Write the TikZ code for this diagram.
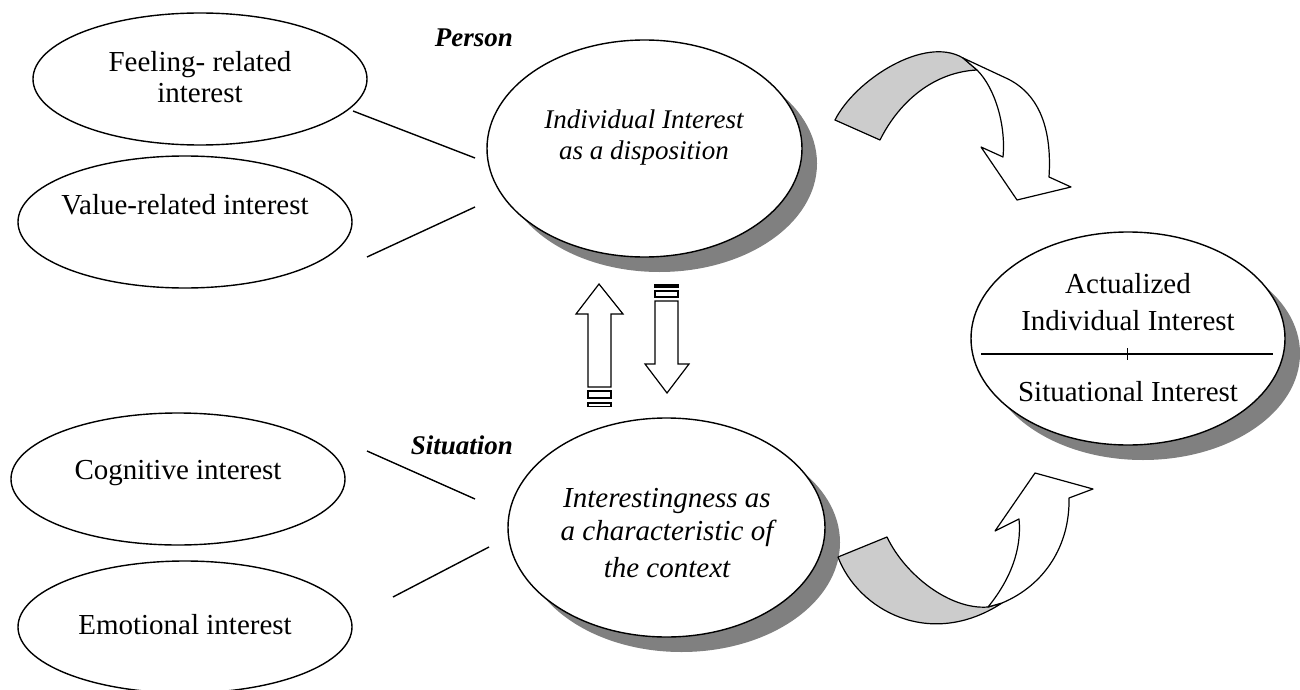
\documentclass[tikz,border=0pt]{standalone}
\usepackage{fontspec}
\setmainfont{Liberation Serif}
\usepackage{xcolor}
\definecolor{Band Gray}{HTML}{cccccc}
\definecolor{Shade Gray}{HTML}{808080}
\colorlet{cBand}{Band Gray}
\colorlet{cShade}{Shade Gray}
\usepackage{tikz}
\usetikzlibrary{shapes.geometric, shadows}
\tikzset{
	oval/.style={
		draw,
		ellipse,
		fill=white,
		line width=1.4pt,
		inner sep=0pt
	},
	shadow oval/.style={
		oval,
		drop shadow={shadow xshift=15pt, shadow yshift=-15pt, fill=cShade, opacity=1}
	},
	caption/.style={
		inner sep=0pt,
		align=center,
		font=\fontsize{29}{31}\selectfont
	},
	tag/.style={
		inner sep=0pt,
		font=\fontsize{27}{30}\selectfont\bfseries\itshape
	},
	link/.style={
		line width=1.4pt
	},
	block/.style={
		draw,
		fill=white,
		line width=1.2pt,
		line join=miter
	},
	band/.style={
		draw,
		fill=cBand,
		line width=1.2pt,
		line join=round
	}
}

\begin{document}
\begin{tikzpicture}[x=1pt, y=-1pt]
\useasboundingbox (0,0) rectangle (1300,690);

% ---
% Kinds of interest
% ---
\foreach \name/\x/\y/\ty/\txt in {
	feeling/200/79/77/{Feeling- related\\interest},
	value/185/222/205/{Value-related interest},
	cognitive/178/479/473/{Cognitive interest},
	emotional/185/627/625/{Emotional interest}} {
	\node[oval, minimum width=334pt, minimum height=132pt] (\name) at (\x,\y) {};
	\node[caption] (\name-t) at (\x,\ty) {\txt};
};

% ---
% Person, situation, actualized interest
% ---
\node[shadow oval, minimum width=315pt, minimum height=217pt] (person) at (644.5,148.5) {};
\node[shadow oval, minimum width=317pt, minimum height=219pt] (situation) at (666.5,527.5) {};
\node[shadow oval, minimum width=314pt, minimum height=213pt] (actual) at (1128,338.5) {};

\node[caption, font=\fontsize{27}{31}\selectfont\itshape] (person-t) at (644,138) {Individual Interest\\as a disposition};
\node[caption, font=\fontsize{29}{33}\selectfont\itshape] (situation-t) at (667,533) {Interestingness as\\a characteristic of\\[4pt]the context};
\node[caption, font=\fontsize{29}{37}\selectfont] (actual-t) at (1128,302) {Actualized\\Individual Interest};
\node[caption] (situational-t) at (1128,392) {Situational Interest};

\node[tag, anchor=east] (person-tag) at (513,38) {Person};
\node[tag, anchor=east] (situation-tag) at (513,445) {Situation};

% ---
% Links
% ---
\coordinate (feeling-a) at (353,111);
\coordinate (feeling-b) at (475,158);
\coordinate (value-a) at (367,257);
\coordinate (value-b) at (475,207);
\coordinate (cognitive-a) at (367,451);
\coordinate (cognitive-b) at (475,499);
\coordinate (emotional-a) at (393,597);
\coordinate (emotional-b) at (489,547);
\foreach \i in {feeling, value, cognitive, emotional} {
	\draw[link] (\i-a) -- (\i-b);
};

% divider with the small plus
\coordinate (div-l) at (981,354);
\coordinate (div-r) at (1273,354);
\draw[link] (div-l) -- (div-r);
\draw[line width=.6pt] (1127,348) -- (1127,360);

% ---
% Up and down arrows
% ---
\draw[block] (588,387) -- (588,314) -- (576,314) -- (599,284) -- (623,314) -- (611,314) -- (611,387) -- cycle;
\draw[block] (588,391) rectangle (611,398);
\draw[block] (588,403) rectangle (611,406.5);

\fill (654,283.5) rectangle (679,288);
\draw[block] (655,291) rectangle (678,297);
\draw[block] (655,301) -- (655,364) -- (645,364) -- (667,393) -- (689,364) -- (678,364) -- (678,301) -- cycle;

% ---
% Curved arrows
% ---
\draw[band] (835,120) .. controls (855,80) and (925,35) .. (963,58) -- (977,70)
	.. controls (935,72) and (900,100) .. (880,140) -- cycle;
\draw[block, line join=round] (963,58) -- (1008,79) .. controls (1040,95) and (1052,130) .. (1049,177)
	-- (1071,187) -- (1017,200) -- (981,147) -- (1003,157)
	.. controls (1006,125) and (995,88) .. (977,70) -- cycle;

\draw[band] (838,557) .. controls (858,610) and (930,650) .. (1002,603) -- (988,607)
	.. controls (950,610) and (905,575) .. (887,537) -- cycle;
\draw[block, line join=round] (988,607) .. controls (1010,580) and (1022,550) .. (1019,519)
	-- (995,531) -- (1035,473) -- (1093,489) -- (1069,498)
	.. controls (1070,545) and (1045,585) .. (1002,603) -- cycle;
\end{tikzpicture}
\end{document}
